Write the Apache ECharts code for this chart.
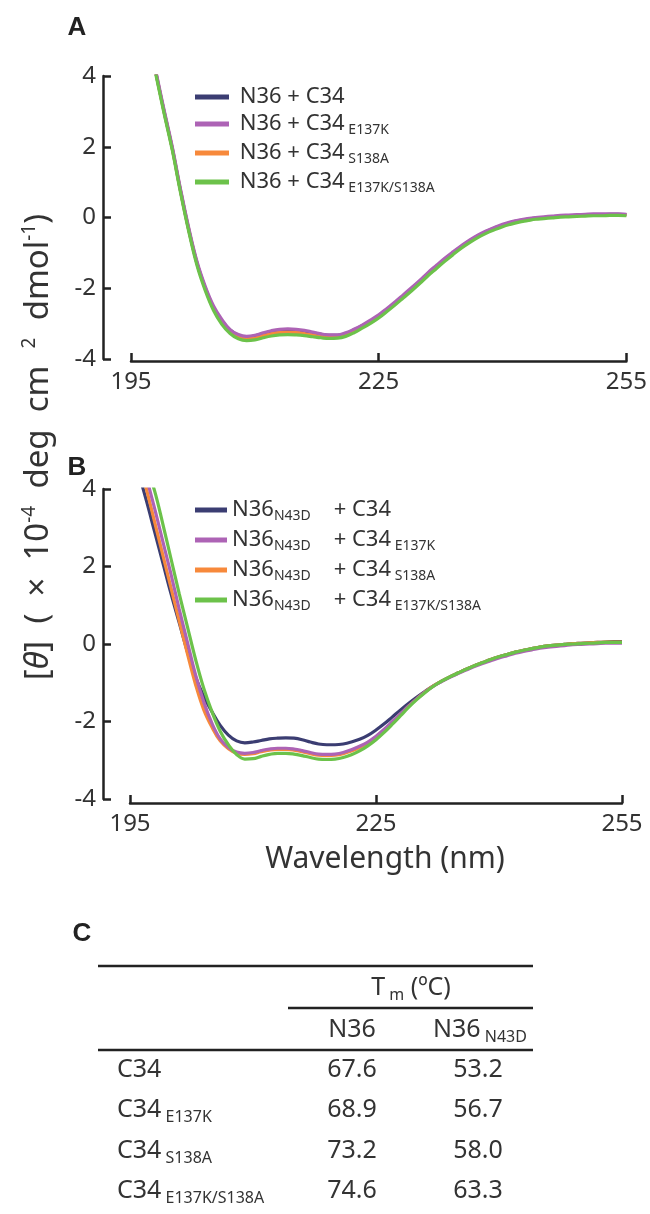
<!DOCTYPE html>
<html>
<head>
<meta charset="utf-8">
<script src="https://cdn.jsdelivr.net/npm/echarts@6/dist/echarts.min.js"></script>
<style>
html,body{margin:0;padding:0;background:#fff;}
#main{width:650px;height:1214px;}
</style>
</head>
<body>
<div id="main"></div>
<script>
// wavelength (nm), 196..255
var wl = [196,197,198,199,200,201,202,203,204,205,206,207,208,209,210,211,212,213,214,215,
          216,217,218,219,220,221,222,223,224,225,226,227,228,229,230,231,232,233,234,235,
          236,237,238,239,240,241,242,243,244,245,246,247,248,249,250,251,252,253,254,255];

// panel A : N36 + C34 variants  ([θ] x10^-4)
var aNavy = [null,null,4.1,3.0,1.95,0.75,-0.35,-1.3,-2.0,-2.55,-2.92,-3.18,-3.33,-3.38,-3.35,-3.28,-3.22,-3.19,-3.18,-3.19,
             -3.22,-3.26,-3.3,-3.33,-3.33,-3.28,-3.18,-3.06,-2.93,-2.78,-2.6,-2.41,-2.21,-2.01,-1.8,-1.58,-1.38,-1.18,-1.0,-0.82,
             -0.66,-0.52,-0.4,-0.3,-0.21,-0.14,-0.09,-0.05,-0.02,0.0,0.02,0.04,0.05,0.06,0.07,0.08,0.08,0.09,0.09,0.08];
var aPurple = [null,null,4.15,3.05,2.0,0.8,-0.3,-1.25,-1.95,-2.5,-2.88,-3.17,-3.31,-3.36,-3.33,-3.26,-3.2,-3.16,-3.15,-3.16,
             -3.19,-3.24,-3.29,-3.32,-3.32,-3.26,-3.16,-3.04,-2.9,-2.75,-2.57,-2.38,-2.18,-1.98,-1.77,-1.55,-1.35,-1.15,-0.97,-0.8,
             -0.64,-0.5,-0.38,-0.28,-0.19,-0.12,-0.07,-0.03,0.0,0.02,0.04,0.06,0.07,0.08,0.09,0.1,0.1,0.1,0.1,0.09];
var aOrange = [null,null,4.1,3.0,1.95,0.75,-0.35,-1.3,-2.02,-2.58,-2.96,-3.22,-3.37,-3.43,-3.41,-3.34,-3.28,-3.25,-3.24,-3.25,
             -3.28,-3.32,-3.36,-3.38,-3.37,-3.31,-3.21,-3.09,-2.95,-2.8,-2.62,-2.43,-2.23,-2.03,-1.82,-1.6,-1.4,-1.2,-1.02,-0.84,
             -0.68,-0.54,-0.42,-0.32,-0.23,-0.16,-0.11,-0.07,-0.03,-0.01,0.01,0.03,0.04,0.05,0.06,0.07,0.07,0.08,0.08,0.07];
var aGreen = [null,null,4.05,2.95,1.9,0.7,-0.4,-1.36,-2.07,-2.63,-3.02,-3.28,-3.43,-3.48,-3.46,-3.4,-3.35,-3.32,-3.31,-3.32,
             -3.34,-3.37,-3.4,-3.42,-3.41,-3.36,-3.26,-3.13,-2.99,-2.84,-2.66,-2.47,-2.27,-2.07,-1.86,-1.64,-1.44,-1.24,-1.05,-0.87,
             -0.71,-0.57,-0.45,-0.35,-0.26,-0.19,-0.13,-0.09,-0.05,-0.03,-0.01,0.01,0.02,0.03,0.04,0.05,0.05,0.06,0.06,0.05];

// panel B : N36(N43D) + C34 variants
var bNavy = [4.45,3.7,2.9,2.1,1.3,0.55,-0.2,-0.85,-1.35,-1.75,-2.1,-2.35,-2.5,-2.55,-2.53,-2.49,-2.45,-2.43,-2.42,-2.43,
             -2.47,-2.53,-2.58,-2.6,-2.6,-2.58,-2.53,-2.46,-2.36,-2.22,-2.06,-1.88,-1.7,-1.53,-1.37,-1.22,-1.08,-0.96,-0.85,-0.75,
             -0.65,-0.56,-0.48,-0.4,-0.33,-0.27,-0.21,-0.16,-0.12,-0.08,-0.05,-0.03,-0.01,0.01,0.02,0.03,0.04,0.05,0.06,0.06];
var bPurple = [null,4.3,3.5,2.65,1.8,0.9,0.05,-0.8,-1.5,-2.05,-2.45,-2.67,-2.79,-2.82,-2.8,-2.75,-2.71,-2.69,-2.69,-2.71,
             -2.75,-2.8,-2.84,-2.85,-2.84,-2.8,-2.73,-2.64,-2.53,-2.38,-2.2,-2.0,-1.8,-1.6,-1.41,-1.24,-1.09,-0.97,-0.86,-0.76,
             -0.67,-0.58,-0.5,-0.43,-0.36,-0.3,-0.24,-0.19,-0.15,-0.11,-0.08,-0.06,-0.04,-0.02,-0.01,0.0,0.01,0.02,0.02,0.02];
var bOrange = [4.8,4.0,3.15,2.3,1.45,0.6,-0.25,-1.05,-1.7,-2.15,-2.5,-2.7,-2.82,-2.85,-2.83,-2.78,-2.74,-2.72,-2.72,-2.74,
             -2.78,-2.83,-2.87,-2.88,-2.87,-2.83,-2.76,-2.67,-2.55,-2.4,-2.22,-2.02,-1.81,-1.6,-1.41,-1.23,-1.08,-0.96,-0.85,-0.75,
             -0.65,-0.56,-0.48,-0.4,-0.33,-0.27,-0.21,-0.16,-0.12,-0.08,-0.05,-0.03,-0.01,0.01,0.02,0.03,0.04,0.05,0.05,0.05];
var bGreen = [null,4.6,3.95,3.1,2.2,1.3,0.45,-0.4,-1.15,-1.75,-2.25,-2.6,-2.85,-2.97,-2.96,-2.9,-2.85,-2.82,-2.82,-2.84,
             -2.88,-2.93,-2.97,-2.98,-2.97,-2.93,-2.86,-2.76,-2.63,-2.47,-2.28,-2.07,-1.85,-1.63,-1.43,-1.25,-1.09,-0.96,-0.85,-0.75,
             -0.65,-0.56,-0.48,-0.4,-0.33,-0.27,-0.21,-0.16,-0.12,-0.08,-0.05,-0.03,-0.01,0.0,0.01,0.02,0.03,0.04,0.04,0.04];

var xTicks = [195, 225, 255];

var colors = ['#3b3d72', '#ad63b5', '#f7893b', '#6cc24a'];   // navy, purple, orange, green

var namesA = ['N36+C34', 'N36+C34E137K', 'N36+C34S138A', 'N36+C34E137K/S138A'];
var labelsA = ['{n| N36 + C34}', '{n| N36 + C34}{s| E137K}', '{n| N36 + C34}{s| S138A}', '{n| N36 + C34}{s| E137K/S138A}'];
var namesB = ['N36N43D+C34', 'N36N43D+C34E137K', 'N36N43D+C34S138A', 'N36N43D+C34E137K/S138A'];
var labelsB = ['{n|N36}{s|N43D}{n|    + C34}', '{n|N36}{s|N43D}{n|    + C34}{s| E137K}',
               '{n|N36}{s|N43D}{n|    + C34}{s| S138A}', '{n|N36}{s|N43D}{n|    + C34}{s| E137K/S138A}'];

// table C
var rowNames = ['C34', 'C34', 'C34', 'C34'];
var rowSubs = ['', 'E137K', 'S138A', 'E137K/S138A'];
var tmN36 = [67.6, 68.9, 73.2, 74.6];
var tmN43D = [53.2, 56.7, 58.0, 63.3];

var FONT = '"Noto Sans", "Open Sans", sans-serif';
var INK = '#333';

function pairs(arr) {
    return wl.map(function (w, i) { return [w, arr[i]]; });
}

var legendRich = {
    n: {fontSize: 22, lineHeight: 26, color: INK, fontFamily: FONT},
    s: {fontSize: 14, lineHeight: 10, verticalAlign: 'bottom', color: INK, fontFamily: FONT}
};

function xAx(idx, off) {
    return {
        type: 'value', gridIndex: idx, min: 195, max: 255, offset: off,
        axisLine: {show: true, onZero: false, lineStyle: {color: '#222', width: 2.5}},
        axisTick: {show: true, inside: true, length: 8, customValues: xTicks, lineStyle: {color: '#222', width: 2.5}},
        axisLabel: {customValues: xTicks, margin: 9, fontSize: 24, color: INK, fontFamily: FONT},
        splitLine: {show: false}
    };
}
function yAx(idx, off) {
    return {
        type: 'value', gridIndex: idx, min: -4, max: 4, interval: 2, offset: off,
        axisLine: {show: true, onZero: false, lineStyle: {color: '#222', width: 2.5}},
        axisTick: {show: true, inside: true, length: 8, lineStyle: {color: '#222', width: 2.5}},
        axisLabel: {margin: 7, fontSize: 24, color: INK, fontFamily: FONT},
        splitLine: {show: false}
    };
}

function line(name, data, color, ax) {
    return {
        name: name, type: 'line', xAxisIndex: ax, yAxisIndex: ax,
        data: pairs(data), symbol: 'none', smooth: 0.4,
        lineStyle: {width: 3.2, color: color}, itemStyle: {color: color}
    };
}

// table graphic
var tbl = [];
function hline(x1, x2, y) {
    tbl.push({type: 'line', shape: {x1: x1, y1: y, x2: x2, y2: y}, style: {stroke: '#222', lineWidth: 2.5}});
}
function txt(x, y, text, align, rich) {
    tbl.push({type: 'text', x: x, y: y,
        style: {text: text, align: align, verticalAlign: 'middle', rich: rich}});
}
var tRich = {
    n: {fontSize: 25, lineHeight: 30, fill: INK, fontFamily: FONT},
    s: {fontSize: 16, lineHeight: 12, verticalAlign: 'bottom', fill: INK, fontFamily: FONT}
};
hline(98, 533, 966);
hline(288, 533, 1008);
hline(98, 533, 1050);
txt(411, 988, '{n|T}{s| m}{n| (ºC)}', 'center', tRich);
txt(352, 1030, '{n|N36}', 'center', tRich);
txt(480, 1030, '{n|N36}{s| N43D}', 'center', tRich);
var rowY = [1070, 1110, 1151, 1191];
for (let i = 0; i < rowNames.length; i++) {
    let lab = '{n|' + rowNames[i] + '}' + (rowSubs[i] ? '{s| ' + rowSubs[i] + '}' : '');
    txt(117, rowY[i], lab, 'left', tRich);
    txt(352, rowY[i], '{n|' + tmN36[i].toFixed(1) + '}', 'center', tRich);
    txt(478, rowY[i], '{n|' + tmN43D[i].toFixed(1) + '}', 'center', tRich);
}

function panelLetter(x, y, t) {
    return {type: 'text', x: x, y: y,
        style: {text: t, fontSize: 26, fontWeight: 'bold', fontFamily: '"Liberation Sans", Arial, sans-serif',
            fill: '#222', align: 'center', verticalAlign: 'middle'}};
}

var chart = echarts.init(document.getElementById('main'));
chart.setOption({
    animation: false,
    backgroundColor: '#fff',
    grid: [
        {left: 131, right: 23, top: 76, height: 283},
        {left: 130, right: 28, top: 489, height: 310}
    ],
    xAxis: [xAx(0, 2), xAx(1, 4)],
    yAxis: [yAx(0, 28), yAx(1, 27)],
    legend: [
        {orient: 'vertical', left: 190, top: 81, itemWidth: 34, itemHeight: 5, icon: 'rect', itemGap: 5,
            selectedMode: false, data: namesA,
            formatter: function (n) { return labelsA[namesA.indexOf(n)]; },
            textStyle: {rich: legendRich}},
        {orient: 'vertical', left: 190, top: 494, itemWidth: 32, itemHeight: 5, icon: 'rect', itemGap: 6,
            selectedMode: false, data: namesB,
            formatter: function (n) { return labelsB[namesB.indexOf(n)]; },
            textStyle: {rich: legendRich}}
    ],
    series: [
        line(namesA[0], aNavy, colors[0], 0),
        line(namesA[2], aOrange, colors[2], 0),
        line(namesA[1], aPurple, colors[1], 0),
        line(namesA[3], aGreen, colors[3], 0),
        line(namesB[0], bNavy, colors[0], 1),
        line(namesB[2], bOrange, colors[2], 1),
        line(namesB[1], bPurple, colors[1], 1),
        line(namesB[3], bGreen, colors[3], 1)
    ],
    graphic: {elements: [
        panelLetter(77, 28, 'A'),
        panelLetter(77, 468, 'B'),
        panelLetter(82, 934, 'C'),
        {type: 'text', x: 39, y: 447, rotation: Math.PI / 2,
            style: {text: '{n|[}{i|θ}{n|]  (  ×  10}{p|-4}{n|  deg  cm  }{p|2}{n|  dmol}{p|-1}{n|)}',
                align: 'center', verticalAlign: 'middle',
                rich: {
                    n: {fontSize: 33, lineHeight: 38, fill: INK, fontFamily: FONT},
                    i: {fontSize: 33, lineHeight: 38, fontStyle: 'italic', fill: INK, fontFamily: FONT},
                    p: {fontSize: 19, lineHeight: 16, verticalAlign: 'top', fill: INK, fontFamily: FONT}
                }}},
        {type: 'text', x: 385, y: 859,
            style: {text: 'Wavelength (nm)', fontSize: 30, fontFamily: FONT, fill: INK,
                align: 'center', verticalAlign: 'middle'}}
    ].concat(tbl)}
});
</script>
</body>
</html>
